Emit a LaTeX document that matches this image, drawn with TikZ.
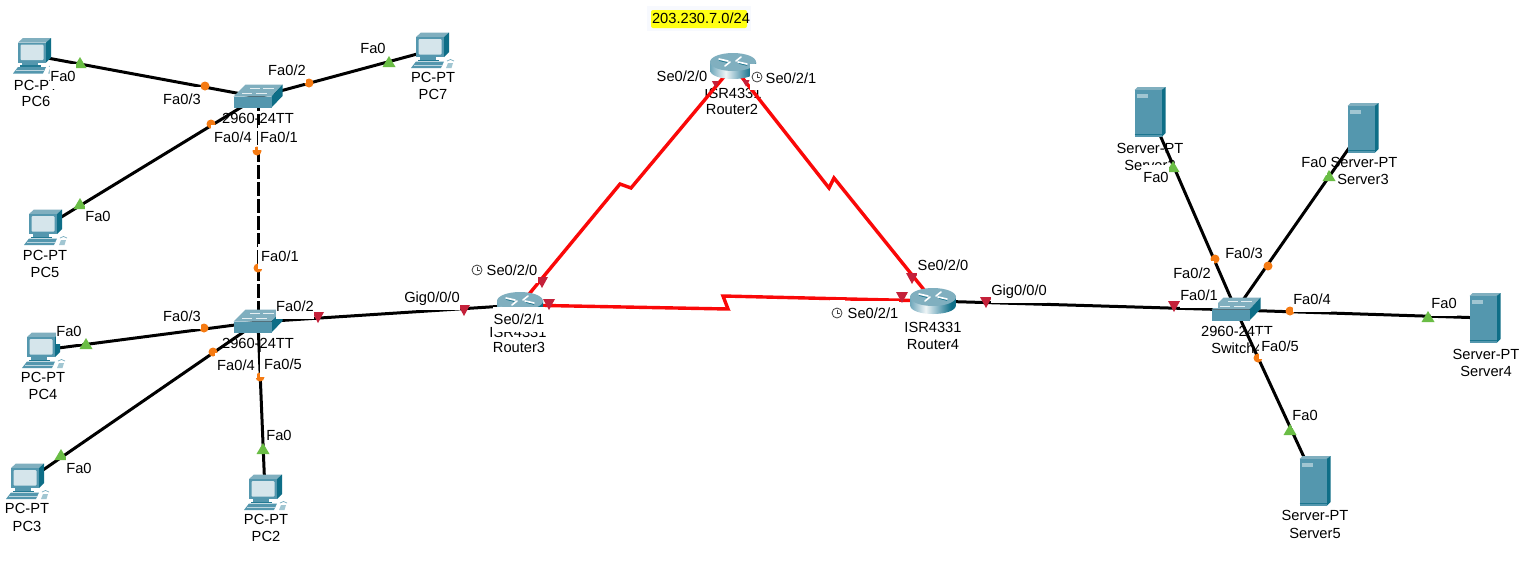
\documentclass[tikz,border=0pt]{standalone}
\usepackage{fontspec}
\setmainfont{Liberation Sans}
\definecolor{tealA}{HTML}{5497AE}
\definecolor{tealB}{HTML}{0E6E87}
\definecolor{tealC}{HTML}{80AFBF}
\definecolor{scrn}{HTML}{D5E5EB}
\definecolor{gmark}{HTML}{6ABD45}
\definecolor{omark}{HTML}{F57A12}
\definecolor{rmark}{HTML}{C4213A}
\definecolor{slink}{HTML}{FA0808}
\definecolor{hl}{HTML}{FFFF14}
\definecolor{hlbg}{HTML}{F7F9FE}
\pgfdeclarehorizontalshading{rtshade}{100bp}{color(0bp)=(tealA); color(25bp)=(tealA!85!white); color(42bp)=(tealA!10!white); color(55bp)=(tealA!70!white); color(70bp)=(tealB); color(100bp)=(tealB)}
\tikzset{
 anchorpt/.style={inner sep=0,minimum size=0,outer sep=0},
 eth/.style={line width=3pt,black},
 ethd/.style={line width=3pt,black,dash pattern=on 14pt off 3pt},
 ser/.style={line width=3.4pt,slink,line join=miter},
 txt/.style={inner sep=0,outer sep=0,text height=17.25pt,text depth=7.75pt,yshift=-0.5pt,font=\fontsize{14.67}{17}\selectfont},
 devlbl/.style={txt},
 portlbl/.style={txt,fill=white,inner xsep=.5pt},
 pcicon/.pic={
  \fill[tealC] (-16,-13)--(-11,-17.5)--(17,-17.5)--(12,-13)--cycle;
  \fill[tealB] (12,-13)--(17,-17.5)--(17,2)--(12,7)--cycle;
  \fill[tealA] (-16,-13) rectangle (12,7);
  \fill[scrn,rounded corners=1pt] (-13.5,-11) rectangle (9.5,4.5);
  \fill[tealA] (-12,7) rectangle (4,10);
  \fill[tealB!70!tealA] (-14,9.5) rectangle (7,11);
  \fill[tealA] (-21,18)--(-16,11.5)--(12,11.5)--(9,18)--cycle;
  \draw[white!60!tealA,line width=.6pt] (-18,15)--(10,15);
  \fill[tealA!55!white] (14,18)--(16,13)--(21,13)--(19.5,18)--cycle;
  \draw[tealA!80!white,line width=.7pt] (15,11) .. controls (17,9) and (20,9) .. (22,11);
 },
 swicon/.pic={
  \fill[tealC] (-24.5,-.5)--(-12.5,-12.5)--(24.5,-12.5)--(13.5,-.5)--cycle;
  \fill[tealB] (13.5,-.5)--(24.5,-12.5)--(24.5,-1)--(13.5,10.5)--cycle;
  \fill[tealA] (-24.5,-.5) rectangle (13.5,10.5);
  \draw[white!80!tealC,line width=.9pt] (-8,-9)--(2,-9) (5,-9)--(16,-9) (-16,-3.5)--(-6,-3.5) (-2,-3.5)--(9,-3.5);
 },
 rticon/.pic={
  \shade[shading=rtshade]
    (-23,-4)--(-23,4) .. controls (-23,16) and (23,16) .. (23,4)--(23,-4)--cycle;
  \fill[tealC] (0,-4) ellipse [x radius=23pt,y radius=9pt];
  \draw[white,line width=1.6pt,line cap=round] (-14,-7)--(-5,-5) (14,-2)--(5,-4) (-8,0)--(-3,-4) (8,-9)--(3,-5);
  \draw[tealB,line width=.5pt,line cap=round] (-14,-5.5)--(-6,-3.5) (14,-.5)--(6,-2.5);
 },
 svicon/.pic={
  \fill[tealC] (-15.5,-22)--(-12.5,-25)--(15.5,-25)--(11.5,-22)--cycle;
  \fill[tealB] (11.5,-22)--(15.5,-25)--(15.5,21)--(11.5,25)--cycle;
  \fill[tealA] (-15.5,-22) rectangle (11.5,25);
  \fill[white!45!tealA] (-13.5,-18) rectangle (-2,-14);
  \draw[tealB!80!tealA,line width=.5pt] (-15.5,22)--(11.5,22);
 },
 gtri/.pic={\fill[gmark] (-6.5,5)--(0,-6)--(6.5,5)--cycle;},
 rtri/.pic={\fill[rmark] (-6,-5)--(6,-5)--(0,6)--cycle;},
 odot/.pic={\fill[omark] (0,0) circle [radius=4.5pt];},
 clockic/.pic={
  \fill[white] (-7.5,-13) rectangle (7.5,13);
  \draw[black!75,line width=.8pt,fill=white] (0,0) circle [radius=5pt];
  \draw[black!75,line width=.8pt] (0,-3.5)--(0,0)--(3,0);
 },
}
\begin{document}
\begin{tikzpicture}[x=1pt,y=-1pt]
\useasboundingbox (0,0) rectangle (1538,574);
\fill[white] (0,0) rectangle (1538,574);

% anchor nodes of the devices
\node[anchorpt] (pc6) at (34,55.5) {};
\node[anchorpt] (pc7) at (432,50) {};
\node[anchorpt] (pc5) at (45,227) {};
\node[anchorpt] (pc4) at (43,350) {};
\node[anchorpt] (pc3) at (27,481) {};
\node[anchorpt] (pc2) at (265,492) {};
\node[anchorpt] (sw1) at (258,97) {};
\node[anchorpt] (sw2) at (258,322) {};
\node[anchorpt] (sw4) at (1236,310) {};
\node[anchorpt] (r2) at (733,66) {};
\node[anchorpt] (r3) at (520,305) {};
\node[anchorpt] (r4) at (933,301) {};
\node[anchorpt] (s2) at (1150,112) {};
\node[anchorpt] (s3) at (1363,128) {};
\node[anchorpt] (s4) at (1485,318) {};
\node[anchorpt] (s5) at (1315,481) {};
\coordinate (z1a) at (620,184);
\coordinate (z1b) at (631,188);
\coordinate (z2a) at (829,188);
\coordinate (z2b) at (834,178);
\coordinate (z3a) at (728,309);
\coordinate (z3b) at (723,296);

% device labels (lie under links and port labels)
\node[devlbl] (l6a) at (36,85) {PC-PT};
\node[devlbl] (l6b) at (36,101) {PC6};
\node[devlbl] (l7a) at (433,77) {PC-PT};
\node[devlbl] (l7b) at (433,94) {PC7};
\node[devlbl] (l5a) at (45,255) {PC-PT};
\node[devlbl] (l5b) at (45,272) {PC5};
\node[devlbl] (l4a) at (43,377) {PC-PT};
\node[devlbl] (l4b) at (43,394) {PC4};
\node[devlbl] (l3a) at (27,508) {PC-PT};
\node[devlbl] (l3b) at (27,526) {PC3};
\node[devlbl] (l2a) at (266,519) {PC-PT};
\node[devlbl] (l2b) at (266,536) {PC2};
\node[devlbl] (ls1) at (258,118) {2960-24TT};
\node[devlbl] (ls2) at (258,343) {2960-24TT};
\node[devlbl] (ls4a) at (1237,331) {2960-24TT};
\node[devlbl] (ls4b) at (1237,348) {Switch4};
\node[devlbl] (lr2a) at (733,93) {ISR4331};
\node[devlbl] (lr2b) at (732,109) {Router2};
\node[devlbl] (lr3a) at (518,332) {ISR4331};
\node[devlbl] (lr3b) at (519,347) {Router3};
\node[devlbl] (lr4a) at (933,327) {ISR4331};
\node[devlbl] (lr4b) at (933,344) {Router4};
\node[devlbl] (lv2a) at (1150,148) {Server-PT};
\node[devlbl] (lv2b) at (1150,165) {Server2};
\node[devlbl] (lv3a) at (1364,162) {Server-PT};
\node[devlbl] (lv3b) at (1363,179) {Server3};
\node[devlbl] (lv4a) at (1486,354) {Server-PT};
\node[devlbl] (lv4b) at (1486,371) {Server4};
\node[devlbl] (lv5a) at (1315,515) {Server-PT};
\node[devlbl] (lv5b) at (1315,533) {Server5};

% links
\draw[eth] (pc6.center)--(sw1.center);
\draw[eth] (pc7.center)--(sw1.center);
\draw[eth] (pc5.center)--(sw1.center);
\draw[ethd] (sw1.center)--(sw2.center);
\draw[eth] (pc4.center)--(sw2.center);
\draw[eth] (pc3.center)--(sw2.center);
\draw[eth] (pc2.center)--(sw2.center);
\draw[eth] (sw2.center)--(r3.center);
\draw[eth] (r4.center)--(sw4.center);
\draw[eth] (s2.center)--(sw4.center);
\draw[eth] (s3.center)--(sw4.center);
\draw[eth] (s4.center)--(sw4.center);
\draw[eth] (s5.center)--(sw4.center);
\draw[ser] (r3.center)--(z1a)--(z1b)--(r2.center);
\draw[ser] (r2.center)--(z2a)--(z2b)--(r4.center);
\draw[ser] (r3.center)--(z3a)--(z3b)--(r4.center);

% icons
\foreach \n in {pc6,pc7,pc5,pc4,pc3,pc2} \pic at (\n.center) {pcicon};
\foreach \n in {sw1,sw2,sw4} \pic at (\n.center) {swicon};
\foreach \n in {r2,r3,r4} \pic at (\n.center) {rticon};
\foreach \n in {s2,s3,s4,s5} \pic at (\n.center) {svicon};

% port markers
\foreach \x/\y in {80/63,389/62,80/204,86/344,61/455,263/449,1173/167,1329/176,1428/317,1290/430}
  \pic at (\x,\y) {gtri};
\foreach \x/\y in {318/317,464/310,542/282,549/304,912/278,902/297,986/302,1174/306}
  \pic at (\x,\y) {rtri};
\pic[scale=.6] at (715.5,84) {rtri};
\pic[scale=.6] at (746,83) {rtri};
\foreach \x/\y in {205/86,309/83,211/124,257/151,258/268,204/328,213/352,260/377,1215/259,1268/266,1290/311,1258/358}
  \pic at (\x,\y) {odot};

% network label
\fill[hlbg] (647,6) rectangle (751,31);
\fill[hl,rounded corners=2pt] (651,10) rectangle (747,28);
\node[txt] (net) at (701,18) {203.230.7.0/24};

% port labels (their white boxes hide what lies under them)
\node[portlbl] (p1) at (63,76) {Fa0};
\node[portlbl] (p2) at (182,99) {Fa0/3};
\node[portlbl] (p3) at (287,70) {Fa0/2};
\node[portlbl] (p4) at (373,48) {Fa0};
\node[portlbl,inner xsep=3.5pt] (p5) at (233,137) {Fa0/4};
\node[portlbl,inner xsep=2pt] (p6) at (279,137) {Fa0/1};
\node[portlbl] (p7) at (98,216) {Fa0};
\node[portlbl,inner xsep=3.5pt] (p8) at (280,256) {Fa0/1};
\node[portlbl] (p9) at (182,316) {Fa0/3};
\node[portlbl] (p10) at (295,306) {Fa0/2};
\node[portlbl] (p11) at (432,297) {Gig0/0/0};
\node[portlbl] (p12) at (69,331) {Fa0};
\node[portlbl,inner xsep=2pt] (p13) at (236,365) {Fa0/4};
\node[portlbl,inner xsep=4.5pt] (p14) at (283,364) {Fa0/5};
\node[portlbl] (p15) at (279,435) {Fa0};
\node[portlbl] (p16) at (79,468) {Fa0};
\node[portlbl] (p17) at (682,76) {Se0/2/0};
\pic at (757,77) {clockic};
\node[portlbl] (p18) at (791,78) {Se0/2/1};
\pic at (477,270) {clockic};
\node[portlbl] (p19) at (512,270) {Se0/2/0};
\node[portlbl] (p20) at (519,319) {Se0/2/1};
\node[portlbl] (p21) at (943,265) {Se0/2/0};
\pic at (837,313) {clockic};
\node[portlbl] (p22) at (873,313) {Se0/2/1};
\node[portlbl] (p23) at (1019,290) {Gig0/0/0};
\node[portlbl] (p24) at (1156,177) {Fa0};
\node[portlbl] (p25) at (1314,162) {Fa0};
\node[portlbl] (p26) at (1244,253) {Fa0/3};
\node[portlbl,inner xsep=3pt] (p27) at (1192,273) {Fa0/2};
\node[portlbl] (p28) at (1199,295) {Fa0/1};
\node[portlbl] (p29) at (1312,299) {Fa0/4};
\node[portlbl] (p30) at (1444,303) {Fa0};
\node[portlbl,inner xsep=2.5pt] (p31) at (1280,346) {Fa0/5};
\node[portlbl] (p32) at (1305,415) {Fa0};
\end{tikzpicture}
\end{document}
